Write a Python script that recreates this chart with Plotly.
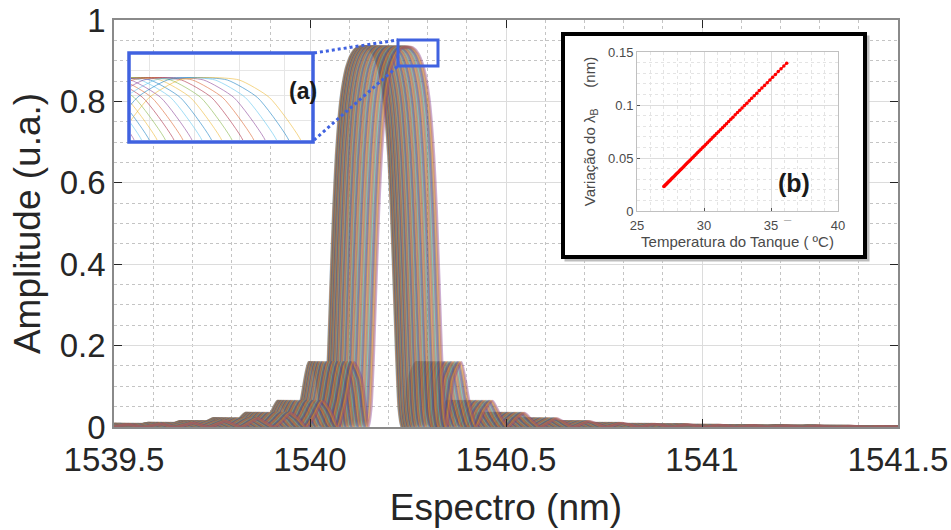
import plotly.graph_objects as go

# ---------------- data ----------------
# tank temperature (inset b) and the Bragg wavelength shift
TEMPERATURE_C = [27.00, 27.05, 27.10, 27.15, 27.20, 27.25, 27.30, 27.36, 27.42, 27.48,
                 27.54, 27.60, 27.67, 27.74, 27.81, 27.88, 27.95, 28.03, 28.11, 28.19,
                 28.27, 28.35, 28.44, 28.53, 28.62, 28.71, 28.80, 28.90, 29.00, 29.10,
                 29.20, 29.31, 29.42, 29.53, 29.64, 29.76, 29.88, 30.00, 30.13, 30.26,
                 30.39, 30.52, 30.66, 30.80, 30.94, 31.08, 31.23, 31.38, 31.53, 31.68,
                 31.84, 32.00, 32.16, 32.33, 32.50, 32.67, 32.84, 33.02, 33.20, 33.38,
                 33.56, 33.75, 33.94, 34.13, 34.32, 34.52, 34.72, 34.92, 35.12, 35.33,
                 35.54, 35.75, 35.96, 36.17]
SHIFT_NM = [0.0230, 0.0236, 0.0243, 0.0249, 0.0255, 0.0262, 0.0268, 0.0276, 0.0283, 0.0291,
            0.0299, 0.0306, 0.0315, 0.0324, 0.0333, 0.0342, 0.0351, 0.0361, 0.0371, 0.0381,
            0.0391, 0.0401, 0.0413, 0.0424, 0.0436, 0.0447, 0.0459, 0.0471, 0.0484, 0.0497,
            0.0509, 0.0523, 0.0537, 0.0551, 0.0565, 0.0581, 0.0596, 0.0611, 0.0628, 0.0644,
            0.0661, 0.0677, 0.0695, 0.0713, 0.0730, 0.0748, 0.0767, 0.0786, 0.0805, 0.0824,
            0.0845, 0.0865, 0.0885, 0.0907, 0.0929, 0.0950, 0.0972, 0.0995, 0.1017, 0.1040,
            0.1063, 0.1087, 0.1111, 0.1136, 0.1160, 0.1185, 0.1210, 0.1236, 0.1261, 0.1288,
            0.1315, 0.1341, 0.1368, 0.1395]
BASE_WAVELENGTH_NM = 1540.11

# one-sided reflection spectrum of the grating (offset from its Bragg wavelength)
PROFILE_OFFSET_NM = [0.0, 0.0133, 0.0267, 0.0400, 0.0467, 0.0547, 0.0600, 0.0667, 0.0733,
                     0.0800, 0.0867, 0.0933, 0.1000,
                     0.1181, 0.1370, 0.1565, 0.1763,
                     0.1963, 0.2165, 0.2368, 0.2572,
                     0.2776, 0.2983, 0.3189, 0.3395,
                     0.3809, 0.4224, 0.4640, 0.5056, 0.5472, 0.5891, 0.6307, 0.6725,
                     0.7141, 0.7560, 0.7979, 0.8395, 0.8813, 0.9232, 0.9651, 1.0067,
                     1.0485, 1.0904, 1.1323, 1.1741, 1.2160, 1.2579, 1.2997, 1.3416, 1.3835]
PROFILE_AMPLITUDE = [0.934, 0.932, 0.918, 0.886, 0.858, 0.808, 0.758, 0.668, 0.539,
                     0.367, 0.182, 0.045, 0.0,
                     0.120, 0.159, 0.065, 0.0,
                     0.040, 0.064, 0.027, 0.0,
                     0.020, 0.034, 0.015, 0.0,
                     0.021, 0.0, 0.014, 0.0, 0.010, 0.0, 0.0075, 0.0,
                     0.0059, 0.0, 0.0047, 0.0, 0.0039, 0.0, 0.0032, 0.0,
                     0.0027, 0.0, 0.0023, 0.0, 0.0020, 0.0, 0.0018, 0.0, 0.0016]

X_TICKS = [1539.5, 1540.0, 1540.5, 1541.0, 1541.5]
X_TICK_LABELS = ["1539.5", "1540", "1540.5", "1541", "1541.5"]
Y_TICKS = [0, 0.2, 0.4, 0.6, 0.8, 1.0]
Y_TICK_LABELS = ["0", "0.2", "0.4", "0.6", "0.8", "1"]
INSET_X_TICKS = [25, 30, 35, 40]
INSET_X_LABELS = ["25", "30", "35", "40"]
INSET_Y_TICKS = [0, 0.05, 0.1, 0.15]
INSET_Y_LABELS = ["0", "0.05", "0.1", "0.15"]
ZOOM_X = [1540.2245, 1540.3265]       # region marked on the main plot
ZOOM_Y = [0.887, 0.951]
MAGNIFIED_X = [1540.212, 1540.292]    # what the (a) panel shows
MAGNIFIED_Y = [0.884, 0.952]

# ---------------- styling / geometry ----------------
COLORS = ["#0072BD", "#D95319", "#EDB120", "#7E2F8E", "#77AC30", "#4DBEEE", "#A2142F"]
FONT = "Liberation Sans, Arial, sans-serif"
TXT = "#262626"
BLUE = "#4062E0"
W, H = 951, 530
PL, PR, PT, PB = 114, 898, 20, 427
X_RANGE = [1539.5, 1541.5]
Y_RANGE = [0, 1]


def dx(px):
    return X_RANGE[0] + (px - PL) / (PR - PL) * (X_RANGE[1] - X_RANGE[0])


def dy(py):
    return Y_RANGE[0] + (PB - py) / (PB - PT) * (Y_RANGE[1] - Y_RANGE[0])


def fx(px):
    return (px - PL) / (PR - PL)


def fy(py):
    return (PB - py) / (PB - PT)


offsets = [-o for o in reversed(PROFILE_OFFSET_NM[1:])] + PROFILE_OFFSET_NM
amps = list(reversed(PROFILE_AMPLITUDE[1:])) + PROFILE_AMPLITUDE

fig = go.Figure()

for i, s in enumerate(SHIFT_NM):
    xs = [BASE_WAVELENGTH_NM + s + o for o in offsets]
    fig.add_trace(go.Scatter(x=xs, y=amps, mode="lines", xaxis="x", yaxis="y",
                             line=dict(color=COLORS[i % 7], width=2.6, shape="spline", smoothing=0.6),
                             opacity=0.38, hoverinfo="skip", showlegend=False))

for i, s in enumerate(SHIFT_NM):
    if i % 2 != 0:
        continue
    xs = [BASE_WAVELENGTH_NM + s + o for o in offsets]
    fig.add_trace(go.Scatter(x=xs, y=amps, mode="lines", xaxis="x2", yaxis="y2",
                             line=dict(color=COLORS[i % 7], width=0.7, shape="spline", smoothing=0.6),
                             opacity=0.75, hoverinfo="skip", showlegend=False))

fig.add_trace(go.Scatter(x=TEMPERATURE_C, y=SHIFT_NM, mode="lines+markers", xaxis="x3", yaxis="y3",
                         line=dict(color="#ff0000", width=1.2),
                         marker=dict(color="#ff0000", size=3.5),
                         hoverinfo="skip", showlegend=False))

grid = "#dcdcdc"
minor_grid = "#c4c4c4"

fig.update_layout(
    width=W, height=H,
    margin=dict(l=PL, r=W - PR, t=PT, b=H - PB, autoexpand=False),
    paper_bgcolor="white", plot_bgcolor="white",
    font=dict(family=FONT, color=TXT),
    showlegend=False,
    xaxis=dict(range=X_RANGE, tickmode="array", tickvals=X_TICKS, ticktext=X_TICK_LABELS,
               automargin=False, ticklabelstandoff=3,
               ticks="inside", ticklen=8, tickcolor=TXT, tickwidth=1,
               showline=True, linecolor="#8a8a8a", linewidth=1.5, mirror="ticks",
               showgrid=True, gridcolor=grid, gridwidth=1, zeroline=False,
               tickfont=dict(size=33, color=TXT),
               minor=dict(tickmode="linear", tick0=1539.5, dtick=0.1, showgrid=True,
                          gridcolor=minor_grid, griddash="dot", gridwidth=1, ticks=""),
               title=dict(text="Espectro (nm)", font=dict(size=37, color=TXT), standoff=17)),
    yaxis=dict(range=Y_RANGE, tickmode="array", tickvals=Y_TICKS, ticktext=Y_TICK_LABELS,
               automargin=False,
               ticks="inside", ticklen=8, tickcolor=TXT, tickwidth=1,
               showline=True, linecolor="#8a8a8a", linewidth=1.5, mirror="ticks",
               showgrid=True, gridcolor=grid, gridwidth=1, zeroline=False,
               tickfont=dict(size=33, color=TXT),
               minor=dict(tickmode="linear", tick0=0, dtick=0.05, showgrid=True,
                          gridcolor=minor_grid, griddash="dot", gridwidth=1, ticks=""),
               title=dict(text="Amplitude (u.a.)", font=dict(size=37, color=TXT), standoff=8)),
    xaxis2=dict(domain=[fx(131), fx(311)], anchor="y2", range=MAGNIFIED_X, automargin=False,
                showticklabels=False, ticks="", showline=False, zeroline=False,
                showgrid=True, gridcolor="#e6e6e6", dtick=0.02, tick0=1540.2),
    yaxis2=dict(domain=[fy(140), fy(55)], anchor="x2", range=MAGNIFIED_Y, automargin=False,
                showticklabels=False, ticks="", showline=False, zeroline=False,
                showgrid=True, gridcolor="#e6e6e6", dtick=0.02, tick0=0.88),
    xaxis3=dict(domain=[fx(637), fx(838)], anchor="y3", range=[25, 40], automargin=False,
                tickmode="array", tickvals=INSET_X_TICKS, ticktext=INSET_X_LABELS,
                ticklabelstandoff=2,
                ticks="inside", ticklen=3, tickcolor="#555",
                showline=True, linecolor="#c0c0c0", mirror=True, zeroline=False,
                showgrid=True, gridcolor="#dddddd",
                minor=dict(tickmode="linear", tick0=25, dtick=1, showgrid=True,
                           gridcolor="#e4e4e4", griddash="dot", ticks=""),
                tickfont=dict(size=13, color="#4a4a4a"),
                title=dict(text="Temperatura do Tanque (\u00a0ºC)", font=dict(size=15, color="#4a4a4a"),
                           standoff=3)),
    yaxis3=dict(domain=[fy(211), fy(52)], anchor="x3", range=[0, 0.15], automargin=False,
                tickmode="array", tickvals=INSET_Y_TICKS, ticktext=INSET_Y_LABELS,
                ticks="inside", ticklen=3, tickcolor="#555",
                showline=True, linecolor="#c0c0c0", mirror=True, zeroline=False,
                showgrid=True, gridcolor="#dddddd",
                minor=dict(tickmode="linear", tick0=0, dtick=0.01, showgrid=True,
                           gridcolor="#e4e4e4", griddash="dot", ticks=""),
                tickfont=dict(size=13, color="#4a4a4a"),
                title=dict(text="Variação do λ<sub>B</sub>\u00a0\u00a0\u00a0\u00a0\u00a0(nm)",
                           font=dict(size=15, color="#4a4a4a"), standoff=8)),
)

shapes = [
    # inset (b) frame: shadow, then white panel with black border
    dict(type="rect", xref="x", yref="y", layer="between",
         x0=dx(566), x1=dx(868), y0=dy(37), y1=dy(260),
         fillcolor="#bdbdbd", line=dict(color="#bdbdbd", width=3)),
    dict(type="rect", xref="x", yref="y", layer="between",
         x0=dx(563), x1=dx(865), y0=dy(34), y1=dy(257),
         fillcolor="white", line=dict(color="black", width=4)),
    # inset (a) panel
    dict(type="rect", xref="x", yref="y", layer="between",
         x0=dx(129), x1=dx(313), y0=dy(53), y1=dy(142),
         fillcolor="white", line=dict(width=0)),
    dict(type="rect", xref="x", yref="y", layer="above",
         x0=dx(129), x1=dx(313), y0=dy(53), y1=dy(142),
         line=dict(color=BLUE, width=3.5)),
    # zoomed region marker
    dict(type="rect", xref="x", yref="y", layer="above",
         x0=ZOOM_X[0], x1=ZOOM_X[1], y0=ZOOM_Y[0], y1=ZOOM_Y[1],
         line=dict(color=BLUE, width=3)),
    # connectors
    dict(type="line", xref="x", yref="y", layer="above",
         x0=dx(314), y0=dy(53), x1=ZOOM_X[0], y1=ZOOM_Y[1],
         line=dict(color=BLUE, width=3, dash="dot")),
    dict(type="line", xref="x", yref="y", layer="above",
         x0=dx(314), y0=dy(140), x1=ZOOM_X[0], y1=ZOOM_Y[0],
         line=dict(color=BLUE, width=3, dash="dot")),
]
fig.update_layout(shapes=shapes)

fig.add_annotation(text="<b>(a)</b>", xref="paper", yref="paper", x=fx(287), y=fy(76),
                   showarrow=False, font=dict(size=23, color="#1a1a1a"))
fig.add_annotation(text="<b>(b)</b>", xref="paper", yref="paper", x=fx(812), y=fy(183),
                   showarrow=False, font=dict(size=25, color="#1a1a1a"))
fig.add_annotation(text="–", xref="paper", yref="paper", x=fx(794), y=fy(219),
                   showarrow=False, font=dict(size=13, color="#b0b0b0"))

fig.write_html("out.html")
